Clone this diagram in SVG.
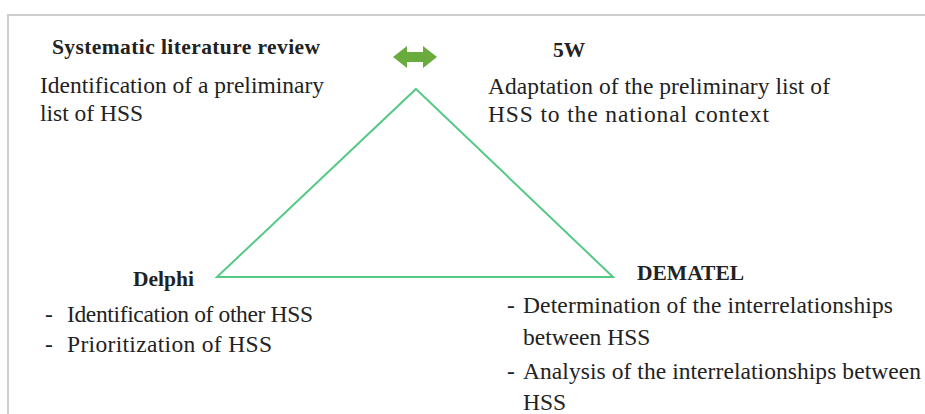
<svg xmlns="http://www.w3.org/2000/svg" width="925" height="414" viewBox="0 0 925 414">
<style>
.t{font-family:"Liberation Serif","DejaVu Serif",serif;font-size:23.5px;fill:#222;}
.b{font-family:"Liberation Serif","DejaVu Serif",serif;font-weight:bold;font-size:21.5px;fill:#222;}
.frame{stroke:#cfcfcf;stroke-width:2;fill:none;}
.tri{stroke:#55c985;stroke-width:2;fill:none;}
.arr{fill:#6aab3e;}
</style>
<rect width="925" height="414" fill="#fff"/>
<path class="frame" d="M8,414 V15 H925"/>
<g id="connectors">
<path class="tri" d="M416,89 L613,277 L217,277 Z"/>
<path class="arr" d="M393,57 L407,46 L407,52 L423,52 L423,46 L437,57 L423,68 L423,62 L407,62 L407,68 Z"/>
</g>
<g id="slr">
<text class="b" x="52" y="54" textLength="268" lengthAdjust="spacing">Systematic literature review</text>
<text class="t" x="40" y="93" textLength="284" lengthAdjust="spacing">Identification of a preliminary</text>
<text class="t" x="40" y="121">list of HSS</text>
</g>
<g id="fivew">
<text class="b" x="553" y="57">5W</text>
<text class="t" x="488" y="94" textLength="342" lengthAdjust="spacing">Adaptation of the preliminary list of</text>
<text class="t" x="488" y="122" textLength="281" lengthAdjust="spacing">HSS to the national context</text>
</g>
<g id="delphi">
<text class="b" x="133" y="286">Delphi</text>
<text class="t" x="45" y="322">-</text>
<text class="t" x="67" y="322" textLength="246" lengthAdjust="spacing">Identification of other HSS</text>
<text class="t" x="45" y="352">-</text>
<text class="t" x="67" y="352" textLength="205" lengthAdjust="spacing">Prioritization of HSS</text>
</g>
<g id="dematel">
<text class="b" x="637" y="280">DEMATEL</text>
<text class="t" x="507" y="313">-</text>
<text class="t" x="523" y="313" textLength="370" lengthAdjust="spacing">Determination of the interrelationships</text>
<text class="t" x="523" y="345">between HSS</text>
<text class="t" x="507" y="379">-</text>
<text class="t" x="523" y="379" textLength="398" lengthAdjust="spacing">Analysis of the interrelationships between</text>
<text class="t" x="523" y="410">HSS</text>
</g>
</svg>
